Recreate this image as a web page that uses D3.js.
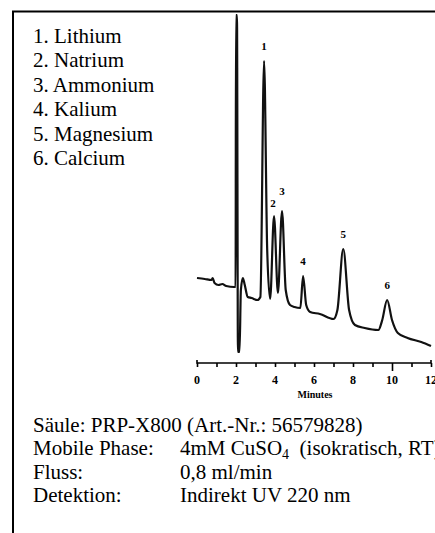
<!DOCTYPE html>
<html><head><meta charset="utf-8">
<script src="https://cdn.jsdelivr.net/npm/d3@7"></script>
<style>html,body{margin:0;padding:0;background:#fff;overflow:hidden}</style>
</head><body>
<svg id="c" width="435" height="533"></svg>
<script>
// Chromatogram trace: retention time (min) and detector signal (arbitrary units)
const times = [0.0,0.4,0.75,0.8,0.9,1.1,1.3,1.5,1.9,1.98,2.0,2.05,2.1,2.18,2.25,2.35,2.45,2.6,2.8,3.1,3.25,3.44,3.6,3.75,3.95,4.15,4.36,4.55,4.77,5.0,5.3,5.44,5.6,5.8,6.3,7.0,7.2,7.5,7.8,8.1,8.6,9.3,9.5,9.75,10.0,10.3,10.8,11.5,12.0];
const signal = [85,84,83,85,80,78,79,77,76,76,348,348,11,11,73,85,78,66,65,63,66,302,113,64,147,70,152,73,58,56,55,87,58,51,49,44,53,114,53,38,35,33,43,63,43,30,25,21,17];
// Peak labels
const peakNames = ["1","2","3","4","5","6"];
const peakTimes = [3.44,3.95,4.36,5.44,7.5,9.75];
const peakHeights = [302,147,152,87,114,63];
const legendItems = ["1. Lithium","2. Natrium","3. Ammonium","4. Kalium","5. Magnesium","6. Calcium"];
const xTicks = [0,2,4,6,8,10,12];
const xMinor = [0,1,2,3,4,5,6,7,8,9,10,11,12];
const infoLabels = ["Säule: PRP-X800 (Art.-Nr.: 56579828)","Mobile Phase:","Fluss:","Detektion:"];
const infoValues = ["","4mM CuSO|4|  (isokratisch, RT)","0,8 ml/min","Indirekt UV 220 nm"];

const svg = d3.select("#c");
const x = d3.scaleLinear().domain([0,12]).range([197,431]);
const y = d3.scaleLinear().domain([0,350]).range([363,13]);

// frame
svg.append("rect").attr("x",13).attr("y",11.5).attr("width",440).attr("height",540)
  .attr("fill","none").attr("stroke","#000").attr("stroke-width",2);

// legend
svg.append("g").selectAll("text").data(legendItems).join("text")
  .attr("x",33).attr("y",(d,i)=>42.5+i*24.5)
  .attr("font-family","Liberation Serif, Times New Roman, serif").attr("font-size",21)
  .text(d=>d);

// trace
const line = d3.line().x((d,i)=>x(times[i])).y(d=>y(d)).curve(d3.curveMonotoneX);
svg.append("path").datum(signal).attr("d",line).attr("fill","none")
  .attr("stroke","#111").attr("stroke-width",2.2).attr("stroke-linejoin","round");

// peak labels
const pl = svg.append("g").attr("font-family","Liberation Serif, serif").attr("font-weight","bold").attr("font-size",11).attr("text-anchor","middle");
peakNames.forEach((n,i)=>{
  let dx=0, dy=-11;
  if(n==="2"){dx=-1; dy=-9;}
  if(n==="3"){dx=0; dy=-16;}
  pl.append("text").attr("x",x(peakTimes[i])+dx).attr("y",y(peakHeights[i])+dy).text(n);
});

// axis
const ax = svg.append("g").attr("transform","translate(0,363)");
ax.call(d3.axisBottom(x).tickValues(xMinor).tickSize(4).tickFormat(""))
ax.select(".domain").attr("d","M"+x(0)+",-3V0H"+x(12)+"V-3").attr("stroke-width",1.6);
ax.selectAll(".tick line").attr("stroke-width",1.6);
ax.selectAll(".tick").filter(d=>d===10).select("line").attr("y2",8);
svg.append("g").selectAll("text").data(xTicks).join("text")
  .attr("x",d=>x(d)).attr("y",384).attr("text-anchor","middle")
  .attr("font-family","Liberation Serif, serif").attr("font-weight","bold").attr("font-size",12)
  .text(d=>d);
svg.append("text").attr("x",315).attr("y",398).attr("text-anchor","middle")
  .attr("font-family","Liberation Serif, serif").attr("font-weight","bold").attr("font-size",10)
  .text("Minutes");

// info block
const info = svg.append("g").attr("font-family","Liberation Serif, Times New Roman, serif").attr("font-size",21);
infoLabels.forEach((l,i)=>{
  const by = 432+i*23.3;
  info.append("text").attr("x",33).attr("y",by).text(l);
  const v = infoValues[i];
  if(v){
    const t = info.append("text").attr("x",180).attr("y",by);
    const parts = v.split("|");
    parts.forEach((p,j)=>{
      const ts = t.append("tspan").text(p).attr("xml:space","preserve");
      if(j===1){ts.attr("font-size",14).attr("dy",4);} 
      if(j===2){ts.attr("dy",-4);} 
    });
  }
});
</script>
</body></html>
